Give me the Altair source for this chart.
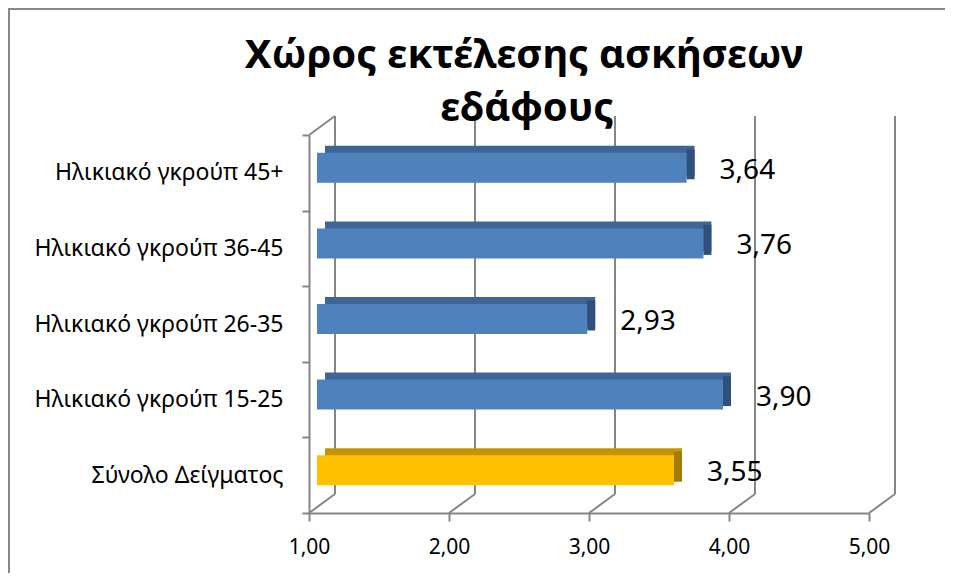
import altair as alt
import pandas as pd

# ---- data ----
categories = [
    "Ηλικιακό γκρούπ 45+",
    "Ηλικιακό γκρούπ 36-45",
    "Ηλικιακό γκρούπ 26-35",
    "Ηλικιακό γκρούπ 15-25",
    "Σύνολο Δείγματος",
]
values = [3.64, 3.76, 2.93, 3.90, 3.55]
is_total = [False, False, False, False, True]
tick_values = [1, 2, 3, 4, 5]
title_lines = ["Χώρος εκτέλεσης ασκήσεων", "εδάφους"]

bars = pd.DataFrame({"cat": categories, "val": values, "total": is_total})
ticks_df = pd.DataFrame({"t": tick_values})
one = pd.DataFrame({"a": [0]})

# ---- styling ----
W, H = 560, 378
DEPTH_X, DEPTH_Y = 26, 19
GRID = "#868686"
LABEL_FONT = "Noto Sans"
TITLE_FONT = "Noto Sans"

x_scale = alt.Scale(domain=[1, 5], nice=False, zero=False)
x_axis = alt.Axis(
    values=tick_values,
    labelExpr="replace(format(datum.value, '.2f'), '.', ',')",
    title=None, grid=False, labelFlush=False,
    domainColor=GRID, domainWidth=2,
    tickColor=GRID, tickWidth=2, tickSize=8,
    labelFont=LABEL_FONT, labelFontSize=21, labelColor="black", labelPadding=15,
)
y_axis = alt.Axis(
    title=None, grid=False,
    domainColor=GRID, domainWidth=2,
    tickColor=GRID, tickWidth=2, tickSize=7, tickBand="extent",
    labelFont=LABEL_FONT, labelFontSize=23, labelColor="black",
    labelPadding=19, labelLimit=400,
)


def X(field):
    return alt.X(field, type="quantitative", scale=x_scale, axis=x_axis)


Y = alt.Y("cat:N", sort=categories,
          scale=alt.Scale(paddingInner=0, paddingOuter=0), axis=y_axis)

colors = (
    "datum.total ? '#FFC000' : '#4F81BD'",
    "datum.total ? '#C49400' : '#3E6596'",
    "datum.total ? '#A57A00' : '#2F4F7C'",
)

base_bars = alt.Chart(bars).transform_calculate(
    c_front=colors[0], c_top=colors[1], c_side=colors[2],
    label="replace(format(datum.val, '.2f'), '.', ',')",
)

# chart frame (top and left edges)
frame_top = alt.Chart(one).mark_rule(color="#878787", strokeWidth=2).encode(
    x=alt.value(-301), x2=alt.value(700), y=alt.value(-126), y2=alt.value(-126))
frame_left = alt.Chart(one).mark_rule(color="#878787", strokeWidth=2).encode(
    x=alt.value(-300), x2=alt.value(-300), y=alt.value(-127), y2=alt.value(700))

# back wall gridlines
back_grid = alt.Chart(ticks_df).mark_rule(
    color=GRID, strokeWidth=2, xOffset=DEPTH_X).encode(
    x=X("t"), y=alt.value(-DEPTH_Y), y2=alt.value(H - DEPTH_Y))
# floor slants
floor = alt.Chart(ticks_df).mark_rule(
    color=GRID, strokeWidth=2, x2Offset=DEPTH_X).encode(
    x=X("t"), x2="t", y=alt.value(H), y2=alt.value(H - DEPTH_Y))
# top slant of the left wall
wall_top = alt.Chart(ticks_df).transform_filter("datum.t == 1").mark_rule(
    color=GRID, strokeWidth=2, x2Offset=DEPTH_X).encode(
    x=X("t"), x2="t", y=alt.value(0), y2=alt.value(-DEPTH_Y))

# 3D bars: top face, side face, front face
bar_top = base_bars.mark_bar(
    size=30, xOffset=16, x2Offset=16, yOffset=-12, y2Offset=-12).encode(
    x=X("val"), x2=alt.datum(1), y=Y, color=alt.Color("c_top:N", scale=None))
bar_side = base_bars.mark_bar(
    size=30, xOffset=8, x2Offset=16, yOffset=-8.5, y2Offset=-8.5).encode(
    x=X("val"), x2="val", y=Y, color=alt.Color("c_side:N", scale=None))
bar_front = base_bars.mark_bar(
    size=30, xOffset=8, x2Offset=8, yOffset=-5, y2Offset=-5).encode(
    x=X("val"), x2=alt.datum(1), y=Y, color=alt.Color("c_front:N", scale=None))

labels = base_bars.mark_text(
    align="left", baseline="middle", dx=41, dy=-2,
    font=LABEL_FONT, fontSize=28, color="black").encode(
    x=X("val"), y=Y, text="label:N")

title1 = alt.Chart(one).mark_text(
    font=TITLE_FONT, fontWeight="bold", fontSize=40,
    align="center", baseline="alphabetic", color="black").encode(
    x=alt.value(215), y=alt.value(-67), text=alt.value(title_lines[0]))
title2 = alt.Chart(one).mark_text(
    font=TITLE_FONT, fontWeight="bold", fontSize=40,
    align="center", baseline="alphabetic", color="black").encode(
    x=alt.value(218), y=alt.value(-14), text=alt.value(title_lines[1]))

chart = alt.layer(
    frame_top, frame_left, back_grid, floor, wall_top,
    bar_top, bar_side, bar_front, labels, title1, title2,
).properties(
    width=W, height=H,
    padding={"left": 301, "top": 127, "right": 76, "bottom": 60},
    autosize=alt.AutoSizeParams(type="none"),
    background="white",
).configure_view(stroke=None)

chart.save("out.html", embed_options={"renderer": "svg", "actions": False})
